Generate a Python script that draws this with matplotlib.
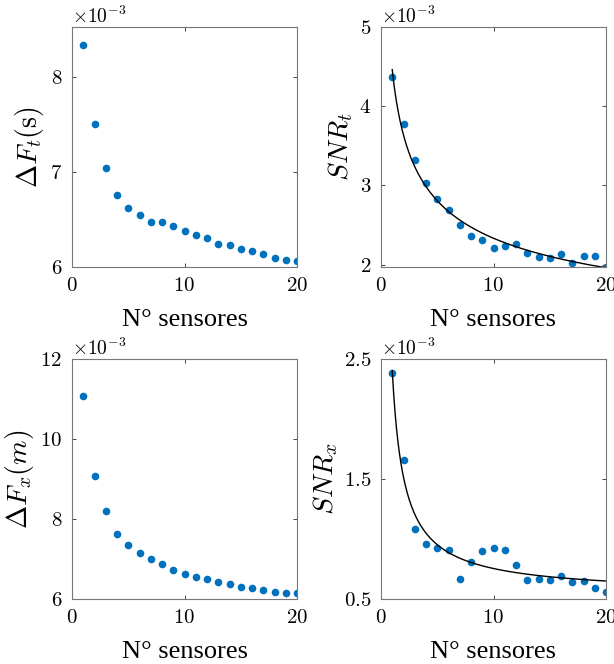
import numpy as np
import matplotlib
matplotlib.use('Agg')
import matplotlib.pyplot as plt

plt.rcParams['mathtext.fontset'] = 'cm'
plt.rcParams['font.family'] = ['cmr10', 'DejaVu Serif']
plt.rcParams['axes.formatter.use_mathtext'] = True

# number of sensors
n_sensors = np.arange(1, 21)

# time resolution (s)
dF_t = [8.336, 7.503, 7.042, 6.755, 6.619, 6.549, 6.476, 6.469, 6.434, 6.378,
        6.339, 6.308, 6.241, 6.227, 6.189, 6.164, 6.140, 6.098, 6.070, 6.059]
# SNR time
snr_t = [4.374, 3.777, 3.315, 3.025, 2.824, 2.693, 2.496, 2.357, 2.311, 2.206,
         2.239, 2.265, 2.147, 2.097, 2.084, 2.139, 2.021, 2.109, 2.109, 1.971]
# space resolution (m)
dF_x = [11.08, 9.067, 8.19, 7.633, 7.358, 7.158, 6.99, 6.875, 6.733, 6.633,
        6.542, 6.50, 6.433, 6.383, 6.308, 6.267, 6.217, 6.167, 6.15, 6.15]
# SNR space
snr_x = [2.386, 1.656, 1.085, 0.957, 0.926, 0.909, 0.664, 0.812, 0.901, 0.923,
         0.909, 0.787, 0.662, 0.667, 0.662, 0.689, 0.642, 0.653, 0.592, 0.561]

blue = '#0072BD'
scale = 1e-3


def power_fit(x, y):
    # fit y = a*x^b + c, grid over b and least squares for a, c
    x = np.asarray(x, float)
    y = np.asarray(y, float)
    best = None
    for b in np.linspace(-3, -0.05, 600):
        A = np.column_stack([x ** b, np.ones_like(x)])
        coef, res, _, _ = np.linalg.lstsq(A, y, rcond=None)
        err = np.sum((A @ coef - y) ** 2)
        if best is None or err < best[0]:
            best = (err, coef[0], b, coef[1])
    return best[1:]


def style_axes(ax, ylim, yticks):
    ax.set_xlim(0, 20)
    ax.set_xticks([0, 10, 20])
    ax.set_ylim(*ylim)
    ax.set_yticks(yticks)
    ax.ticklabel_format(axis='y', style='sci', scilimits=(-3, -3))
    ax.yaxis.get_offset_text().set_fontsize(14)
    ax.tick_params(direction='in', top=True, right=True, length=3,
                   width=0.6, labelsize=15, pad=7, color='#262626')
    for s in ax.spines.values():
        s.set_color('#777777')
        s.set_linewidth(0.8)
    ax.set_xlabel('N° sensores', family=['Liberation Serif'], fontsize=19, labelpad=10.5)


fig = plt.figure(figsize=(6.14, 6.64), dpi=100)
W, H = 614, 664
boxes = [(72, 27), (381, 27), (72, 359), (381, 359)]
axs = [fig.add_axes([l / W, 1 - (t + 240) / H, 225 / W, 240 / H]) for l, t in boxes]

series = [dF_t, snr_t, dF_x, snr_x]
labels = [r'$\Delta F_t(\mathrm{s})$', r'$SNR_t$', r'$\Delta F_x(m)$', r'$SNR_x$']
ylims = [(6.0 * scale, 8.52 * scale), (1.97 * scale, 5.0 * scale),
         (6.0 * scale, 12.0 * scale), (0.5 * scale, 2.5 * scale)]
yticks = [[6e-3, 7e-3, 8e-3], [2e-3, 3e-3, 4e-3, 5e-3],
          [6e-3, 8e-3, 10e-3, 12e-3], [0.5e-3, 1.5e-3, 2.5e-3]]

for i, ax in enumerate(axs):
    y = np.array(series[i]) * scale
    ax.plot(n_sensors, y, 'o', color=blue, markersize=5.5, markeredgewidth=0)
    if i in (1, 3):
        a, b, c = power_fit(n_sensors, y)
        xf = np.linspace(1, 20, 300)
        ax.plot(xf, a * xf ** b + c, color='k', linewidth=1.0)
    style_axes(ax, ylims[i], yticks[i])
    ax.set_ylabel(labels[i], fontsize=20, labelpad=3)

fig.savefig('out.png', dpi=100)
